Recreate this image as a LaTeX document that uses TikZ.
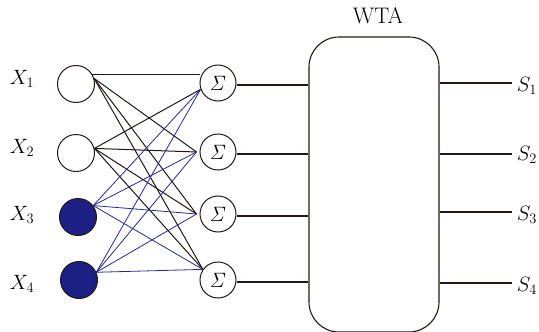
\documentclass[tikz,border=0pt]{standalone}
\definecolor{inkblack}{RGB}{35,24,21}
\definecolor{inkblue}{RGB}{38,40,150}
\definecolor{navyfill}{RGB}{28,32,132}
\begin{document}
\begin{tikzpicture}[x=1pt,y=-1pt,
  lab/.style={font=\fontsize{22.5}{27}\selectfont, inner sep=0pt},
  inp/.style={circle, draw=inkblack, line width=1pt, minimum size=37pt, inner sep=0pt},
  sumnode/.style={circle, draw=inkblack, line width=1pt, minimum size=36pt, inner sep=0pt,
                  font=\fontsize{22}{26}\selectfont},
  wk/.style={draw=inkblack, line width=1pt},
  wb/.style={draw=inkblue, line width=0.8pt},
  wire/.style={draw=inkblack, line width=1.1pt}]
\useasboundingbox (0,0) rectangle (539,332);

% input neurons
\node[inp] (x1) at (76,84) {};
\node[inp] (x2) at (76,153) {};
\node[inp, fill=navyfill] (x3) at (78,217) {};
\node[inp, fill=navyfill] (x4) at (79,280) {};

\node[lab] (lx1) at (22,79) {$X_1$};
\node[lab] (lx2) at (22,148) {$X_2$};
\node[lab] (lx3) at (22,215) {$X_3$};
\node[lab] (lx4) at (22,284) {$X_4$};

% summation units
\node[sumnode] (s1) at (218,83) {$\mathit{\Sigma}$};
\node[sumnode] (s2) at (218,152) {$\mathit{\Sigma}$};
\node[sumnode] (s3) at (218,214) {$\mathit{\Sigma}$};
\node[sumnode] (s4) at (218,280) {$\mathit{\Sigma}$};

% winner-take-all block
\node[draw=inkblack, line width=1.1pt, rounded corners=30pt,
      minimum width=130pt, minimum height=295pt, inner sep=0pt] (wta) at (374,184.5) {};
\node[lab] (wtal) at (378,16) {WTA};

% weight connections: source and target points
\coordinate (a1) at (x1.17);
\coordinate (a2) at (x2.14);
\coordinate (a3) at (x3.37);
\coordinate (a4) at (x4.24);
\coordinate (t1) at (s1.200);
\coordinate (t2) at ([xshift=-3pt]s2.west);
\coordinate (t3) at ([xshift=-3pt]s3.west);
\coordinate (t4) at (s4.145);

\draw[wk] (x1.30) -- (x1.30 -| s1.west);
\foreach \j in {2,3,4} \draw[wk] (a1) -- (t\j);
\foreach \j in {1,2,3,4} \draw[wk] (a2) -- (t\j);
\foreach \j in {1,2,3,4} \draw[wb] (a3) -- (t\j);
\foreach \j in {1,2,3,4} \draw[wb] (a4) -- (t\j);

% sums into the WTA block
\foreach \j in {1,2,3,4} \draw[wire] ([yshift=-2pt]s\j.east) -- ([yshift=-2pt]s\j.east -| wta.west);

% outputs
\coordinate (o1) at (512,83);
\coordinate (o2) at (512,154);
\coordinate (o3) at (512,212);
\coordinate (o4) at (512,283);
\foreach \j in {1,2,3,4} \draw[wire] (o\j -| wta.east) -- (o\j);

\node[lab] (ls1) at (527,86) {$S_1$};
\node[lab] (ls2) at (527,155) {$S_2$};
\node[lab] (ls3) at (527,215) {$S_3$};
\node[lab] (ls4) at (527,286) {$S_4$};
\end{tikzpicture}
\end{document}
